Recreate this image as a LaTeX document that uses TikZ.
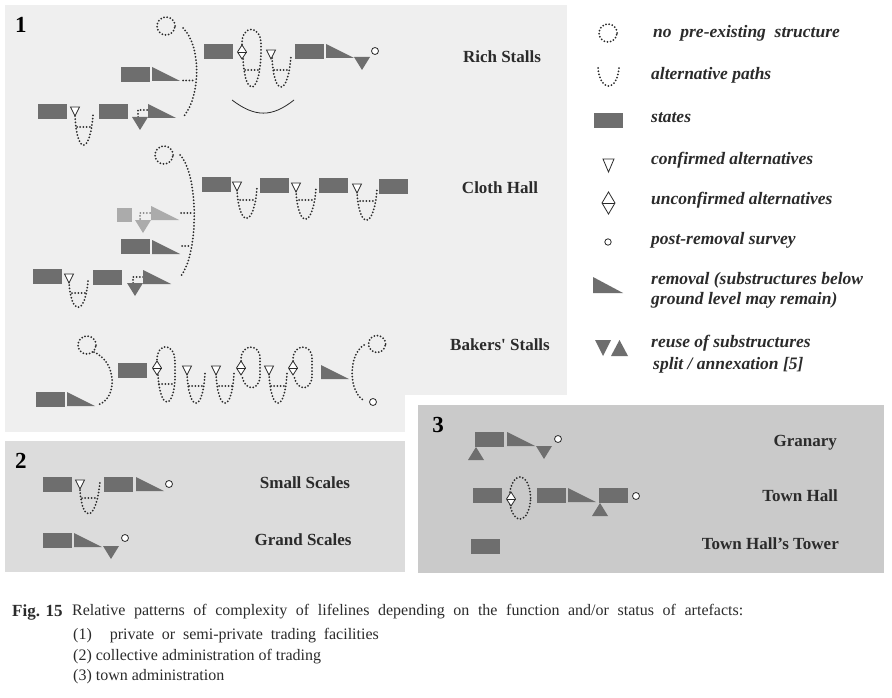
\documentclass[tikz,border=0pt]{standalone}
\usepackage{fontspec}
\setmainfont{Liberation Serif}
\definecolor{ink}{HTML}{2B2B2B}
\definecolor{stcol}{HTML}{6E6E6E}
\definecolor{ltcol}{HTML}{ABABAB}
\definecolor{pone}{HTML}{EFEFEF}
\definecolor{ptwo}{HTML}{DCDCDC}
\definecolor{pthree}{HTML}{CACACA}
\tikzset{
  stfill/.style={fill=stcol},
  ltfill/.style={fill=ltcol},
  conf/.style={fill=white,draw=ink,line width=0.8pt,line join=miter},
  dots/.style={draw=ink,line width=2pt,line cap=round,dash pattern=on 0pt off 3.2pt},
  ltdots/.style={dots,draw=ltcol!70!ink},
  lbl/.style={inner sep=0pt,text=ink,font=\fontsize{17}{20}\selectfont\bfseries},
  leg/.style={inner sep=0pt,anchor=west,text=ink,font=\fontsize{17.5}{20}\selectfont\bfseries\itshape},
  pnum/.style={inner sep=0pt,text=black,font=\fontsize{23}{26}\selectfont\bfseries},
  captext/.style={inner sep=0pt,anchor=west,text=ink,font=\fontsize{16}{18}\selectfont},
}
% glyph macros: state (top-left), removal (top-left), reuse down (top-left), reuse up (bottom-left),
% confirmed (top-centre), unconfirmed (centre), survey (centre), no-pre-existing (centre)
\newcommand\gSt[2][stfill]{\fill[#1] (#2) rectangle ++(29,15);}
\newcommand\gRm[2][stfill]{\fill[#1] (#2) -- ++(28,14) -- ++(-28,0) -- cycle;}
\newcommand\gDn[2][stfill]{\fill[#1] (#2) -- ++(16,0) -- ++(-8,13) -- cycle;}
\newcommand\gUp[1]{\fill[stfill] (#1) -- ++(8,-13) -- ++(8,13) -- cycle;}
\newcommand\gCf[1]{\filldraw[conf] (#1) ++(-4.5,0) -- ++(9,0) -- ++(-4.5,9) -- cycle;}
\newcommand\gDm[1]{\filldraw[conf] (#1) ++(0,-7) -- ++(4.5,7) -- ++(-4.5,7) -- ++(-4.5,-7) -- cycle; \draw[conf] (#1) ++(-4.5,0) -- ++(9,0);}
\newcommand\gSv[1]{\filldraw[conf] (#1) circle[radius=3.5pt];}
\newcommand\gNp[2][9pt]{\draw[dots] (#2) circle[radius=#1];}
\begin{document}
\begin{tikzpicture}[x=1pt,y=-1pt]
\path[use as bounding box,fill=white] (0,0) rectangle (892,698);
% panels
\fill[pone] (5,5) rectangle (567,432);
\fill[white] (405,395) rectangle (892,585);
\fill[ptwo] (5,441) rectangle (405,572);
\fill[pthree] (418,405) rectangle (884,573);
\node[pnum] (n1) at (21,25) {1};
\node[pnum] (n2) at (21,461) {2};
\node[pnum] (n3) at (438,425) {3};

% ===== Rich Stalls =====
\gNp{166,26}
\draw[dots] (183,28) .. controls (201,45) and (201,95) .. (184,116);
\gSt{204,44}
\draw[dots] (243,59) .. controls (245,97) and (259,97) .. (261,55) -- (261,46) .. controls (262,24) and (241,24) .. (242,45);
\draw[dots] (245,70) -- (258,70);
\gDm{242,52}
\draw[dots] (272,58) .. controls (274,97) and (288,97) .. (291,56);
\draw[dots] (274,70) -- (289,70);
\gCf{271,50}
\gSt{295,44}
\gRm{326,44}
\gDn{354,57}
\gSv{375,51}
\draw[ink,line width=0.8pt] (232,100) .. controls (255,117.5) and (272,117.5) .. (294,100);
% row 2
\gSt{121,67}
\gRm{152,67}
\draw[dots] (183,80.5) -- (195,80.5);
% row 3
\gSt{38,104}
\draw[dots] (75,116) .. controls (77,155) and (90,155) .. (93,115);
\draw[dots] (77,127) -- (90,127);
\gCf{75,107}
\gSt{99,104}
\draw[dots] (147,110) -- (138,110) -- (138,117);
\gDn{132,117}
\gRm{148,104}
\node[lbl] (rich) at (502,57) {Rich Stalls};

% ===== Cloth Hall =====
\gNp{164,155}
\draw[dots] (180,155) .. controls (199,175) and (199,255) .. (180,277);
\gSt{202,177}
\draw[dots] (237,190) .. controls (239,228) and (254,228) .. (257,188);
\draw[dots] (240,200) -- (253,200);
\gCf{237,182}
\gSt{260,178}
\draw[dots] (296,191) .. controls (298,229) and (313,229) .. (316,188);
\draw[dots] (299,200) -- (312,200);
\gCf{296,183}
\gSt{319,178}
\draw[dots] (357,192) .. controls (359,230) and (374,230) .. (377,189);
\draw[dots] (360,201) -- (373,201);
\gCf{357,184}
\gSt{379,179}
% row 2 (light)
\fill[ltfill] (117,208) rectangle (132,222);
\draw[ltdots] (150,213) -- (140,213) -- (140,219);
\gDn[ltfill]{135,220}
\gRm[ltfill]{151,206}
\draw[dots] (181,213) -- (193,213);
% row 3
\gSt{121,239}
\gRm{152,240}
\draw[dots] (182,246) -- (191,246);
% row 4
\gSt{33,269}
\draw[dots] (69,282) .. controls (71,316) and (85,316) .. (88,281);
\draw[dots] (72,293) -- (86,293);
\gCf{69,274}
\gSt{93,270}
\draw[dots] (143,277) -- (133,277) -- (133,283);
\gDn{127,283}
\gRm{143,270}
\node[lbl] (cloth) at (500,188) {Cloth Hall};

% ===== Bakers' Stalls =====
\gNp{87,345}
\draw[dots] (94,352) .. controls (117,362) and (118,398) .. (98,405);
\gSt{36,392}
\gRm{67,392}
\gSt{118,363}
\draw[dots] (158,375) .. controls (160,410) and (173,410) .. (175,380) -- (175,362) .. controls (175,342) and (157,342) .. (157,360);
\draw[dots] (159,384) -- (174,384);
\gDm{157,368}
\draw[dots] (187,374) .. controls (189,413) and (203,413) .. (205,373);
\draw[dots] (189,386) -- (203,386);
\gCf{187,366}
\draw[dots] (216,374) .. controls (218,413) and (232,413) .. (234,373);
\draw[dots] (219,386) -- (233,386);
\gCf{216,366}
\draw[dots] (241,361) .. controls (240,343) and (260,343) .. (260,358) -- (260,375) .. controls (260,392) and (244,392) .. (242,375);
\gDm{241,368}
\draw[dots] (269,374) .. controls (271,413) and (285,413) .. (287,373);
\draw[dots] (271,386) -- (286,386);
\gCf{269,366}
\draw[dots] (293,361) .. controls (292,343) and (312,343) .. (312,358) -- (312,375) .. controls (312,392) and (296,392) .. (294,375);
\gDm{293,368}
\gRm{321,365}
\draw[dots] (364,345) .. controls (348,355) and (348,393) .. (365,401);
\gNp[8.5pt]{377,344}
\gSv{373,402}
\node[lbl] (bakers) at (500,345) {Bakers\textquotesingle\ Stalls};

% ===== Panel 2 =====
\gSt{43,477}
\draw[dots] (80,490) .. controls (82,523) and (96,523) .. (100,482);
\draw[dots] (82,498) -- (97,498);
\gCf{80,480}
\gSt{104,477}
\gRm{136,477}
\gSv{169,484}
\node[lbl] (small) at (305,483) {Small Scales};
\gSt{43,533}
\gRm{74,533}
\gDn{103,546}
\gSv{125,538}
\node[lbl] (grand) at (303,540) {Grand Scales};

% ===== Panel 3 =====
\gSt{475,432}
\gUp{468,460}
\gRm{507,432}
\gDn{536,446}
\gSv{558,439}
\node[lbl,anchor=east] (granary) at (837,443) {Granary};
\gSt{473,488}
\draw[dots] (520,498) ellipse[x radius=10.5pt,y radius=21pt];
\gDm{511,499}
\gSt{537,488}
\gRm{568,488}
\gUp{592,516}
\gSt{599,488}
\gSv{636,496}
\node[lbl,anchor=east] (townhall) at (838,496) {Town Hall};
\gSt{471,539}
\node[lbl,anchor=east] (tower) at (839,544) {Town Hall’s Tower};

% ===== Legend =====
\gNp{608,33}
\node[leg] (l1) at (653,33) {no\ \ pre-existing\ \ structure};
\draw[dots] (598,68) .. controls (600,92) and (617,92) .. (619,68);
\node[leg] (l2) at (651,75) {alternative paths};
\gSt{594,113}
\node[leg] (l3) at (651,118) {states};
\filldraw[conf] (603,159) -- (614,159) -- (608.5,172) -- cycle;
\node[leg] (l4) at (651,160) {confirmed alternatives};
\filldraw[conf] (608.5,192) -- (615,203) -- (608.5,214) -- (602,203) -- cycle;
\draw[conf] (602,203) -- (615,203);
\node[leg] (l5) at (651,200) {unconfirmed alternatives};
\filldraw[conf] (608,242) circle[radius=3.2pt];
\node[leg] (l6) at (651,240) {post-removal survey};
\fill[stfill] (593,277) -- (623,293) -- (593,293) -- cycle;
\node[leg] (l7) at (651,280) {removal (substructures below};
\node[leg] (l7b) at (651,300) {ground level may remain)};
\fill[stfill] (595,340) -- (611,340) -- (603,356) -- cycle;
\fill[stfill] (611,356) -- (619.5,340) -- (628,356) -- cycle;
\node[leg] (l8) at (651,343) {reuse of substructures};
\node[leg] (l8b) at (653,365) {split / annexation [5]};

% ===== Caption =====
\node[captext,font=\fontsize{17}{18}\selectfont\bfseries] (fig) at (12,612) {Fig. 15};
\node[captext] (c0) at (72,612) {\makebox[671pt][s]{Relative patterns of complexity of lifelines depending on the function and/or status of artefacts:}};
\node[captext] (c1) at (73,636) {(1)\hspace{18pt}\makebox[269pt][s]{private or semi-private trading facilities}};
\node[captext] (c2) at (73,657) {(2) collective administration of trading};
\node[captext] (c3) at (73,677) {(3) town administration};
\end{tikzpicture}
\end{document}
